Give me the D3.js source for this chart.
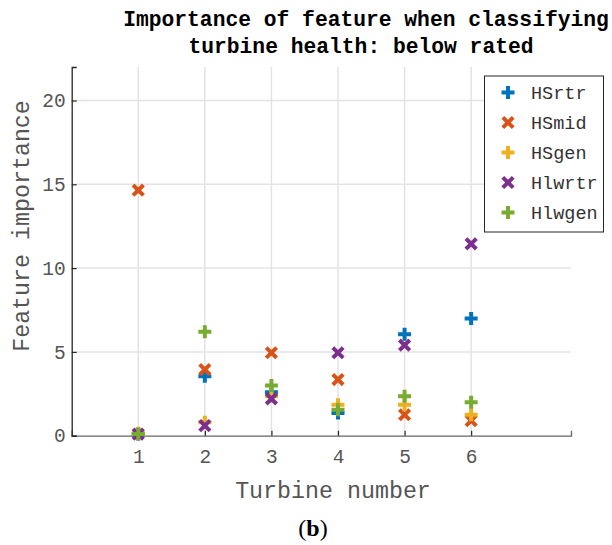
<!DOCTYPE html>
<html>
<head>
<meta charset="utf-8">
<script src="https://cdn.jsdelivr.net/npm/d3@7"></script>
<style>
  body { margin: 0; background: #fff; }
  text { font-family: "Courier New", "Liberation Mono", monospace; }
</style>
</head>
<body>
<script>
// turbine numbers on the x axis
const turbines = [1, 2, 3, 4, 5, 6];

// feature importance per turbine
const HSrtr  = [0.1, 3.55, 2.6, 1.35, 6.05, 7.0];
const HSmid  = [14.65, 3.95, 4.95, 3.35, 1.25, 0.9];
const HSgen  = [0.15, 0.8, 2.35, 1.85, 1.85, 1.25];
const Hlwrtr = [0.1, 0.6, 2.2, 4.95, 5.4, 11.45];
const Hlwgen = [0.1, 6.2, 3.0, 1.55, 2.35, 2.0];

const seriesNames = ['HSrtr', 'HSmid', 'HSgen', 'Hlwrtr', 'Hlwgen'];
const seriesValues = [HSrtr, HSmid, HSgen, Hlwrtr, Hlwgen];
const seriesMarkers = ['plus', 'cross', 'plus', 'cross', 'plus'];
const seriesColors = ['#0072BD', '#D95319', '#EDB120', '#7E2F8E', '#77AC30'];

const yTicks = [0, 5, 10, 15, 20];

const width = 612;
const height = 545;

const x = d3.scaleLinear().domain([0, 7.5]).range([71.7, 571]);
const y = d3.scaleLinear().domain([0, 22]).range([435.7, 67]);

const svg = d3.select('body').append('svg')
  .attr('width', width)
  .attr('height', height);

svg.append('rect')
  .attr('width', width)
  .attr('height', height)
  .attr('fill', '#fff');

// grid
const grid = svg.append('g').attr('id', 'grid');
grid.selectAll('line.gx')
  .data(turbines)
  .join('line')
  .attr('class', 'gx')
  .attr('x1', d => x(d)).attr('x2', d => x(d))
  .attr('y1', y.range()[1]).attr('y2', y.range()[0])
  .attr('stroke', '#e3e3e3')
  .attr('stroke-width', 1.5);
grid.selectAll('line.gy')
  .data(yTicks.filter(d => d > 0))
  .join('line')
  .attr('class', 'gy')
  .attr('y1', d => y(d)).attr('y2', d => y(d))
  .attr('x1', x.range()[0]).attr('x2', x.range()[1])
  .attr('stroke', '#e3e3e3')
  .attr('stroke-width', 1.5);

// axes (MATLAB style: ticks pointing inward)
const xAxis = svg.append('g')
  .attr('transform', `translate(0,${y(0)})`)
  .call(d3.axisBottom(x).tickValues(turbines).tickSize(-5).tickPadding(13));
const yAxis = svg.append('g')
  .attr('transform', `translate(${x(0)},0)`)
  .call(d3.axisLeft(y).tickValues(yTicks).tickSize(-5).tickPadding(6));

[xAxis, yAxis].forEach(g => {
  g.select('.domain').attr('stroke', '#262626').attr('stroke-width', 1.3);
  g.selectAll('.tick line').attr('stroke', '#262626').attr('stroke-width', 1.2);
  g.selectAll('.tick text')
    .attr('font-family', '"Courier New", "Liberation Mono", monospace')
    .attr('font-size', 19.5)
    .attr('fill', '#555');
});
xAxis.select('.domain').attr('stroke', '#666');
xAxis.selectAll('.tick text').attr('dy', '0.71em');

// markers
const markerPath = (type, s) => {
  const p = d3.path();
  if (type === 'plus') {
    p.moveTo(-s, 0); p.lineTo(s, 0);
    p.moveTo(0, -s); p.lineTo(0, s);
  } else {
    const c = s * 0.8;
    p.moveTo(-c, -c); p.lineTo(c, c);
    p.moveTo(-c, c); p.lineTo(c, -c);
  }
  return p.toString();
};

const marks = svg.append('g').attr('id', 'marks');
seriesValues.forEach((vals, i) => {
  marks.append('g')
    .selectAll('path')
    .data(vals.map((v, j) => [turbines[j], v]))
    .join('path')
    .attr('transform', d => `translate(${x(d[0])},${y(d[1])})`)
    .attr('d', markerPath(seriesMarkers[i], 6.5))
    .attr('stroke', seriesColors[i])
    .attr('stroke-width', 4)
    .attr('fill', 'none');
});

// legend
const legend = svg.append('g').attr('id', 'legend');
legend.append('rect')
  .attr('x', 484.5).attr('y', 76)
  .attr('width', 119).attr('height', 156)
  .attr('fill', '#fff')
  .attr('stroke', '#262626')
  .attr('stroke-width', 1);
seriesNames.forEach((name, i) => {
  const ly = 92.5 + i * 30;
  legend.append('path')
    .attr('transform', `translate(508,${ly})`)
    .attr('d', markerPath(seriesMarkers[i], 6.5))
    .attr('stroke', seriesColors[i])
    .attr('stroke-width', 4)
    .attr('fill', 'none');
  legend.append('text')
    .attr('x', 531)
    .attr('y', ly)
    .attr('dy', '0.35em')
    .attr('font-size', 18.5)
    .attr('fill', '#333')
    .text(name);
});

// title
const title = svg.append('text')
  .attr('text-anchor', 'middle')
  .attr('font-size', 21.3)
  .attr('font-weight', 'bold')
  .attr('fill', '#000');
title.append('tspan').attr('x', 366).attr('y', 26).text('Importance of feature when classifying');
title.append('tspan').attr('x', 361).attr('y', 53).text('turbine health: below rated');

// axis labels
svg.append('text')
  .attr('x', 333)
  .attr('y', 498)
  .attr('text-anchor', 'middle')
  .attr('font-size', 23.3)
  .attr('fill', '#555')
  .text('Turbine number');

svg.append('text')
  .attr('transform', 'translate(29,226) rotate(-90)')
  .attr('text-anchor', 'middle')
  .attr('font-size', 23.3)
  .attr('fill', '#555')
  .text('Feature importance');

// panel label
const panel = svg.append('text')
  .attr('x', 313)
  .attr('y', 536)
  .attr('text-anchor', 'middle')
  .attr('font-size', 24)
  .attr('fill', '#000')
  .style('font-family', '"Liberation Serif", serif');
panel.append('tspan').text('(');
panel.append('tspan').attr('font-weight', 'bold').text('b');
panel.append('tspan').text(')');
</script>
</body>
</html>
